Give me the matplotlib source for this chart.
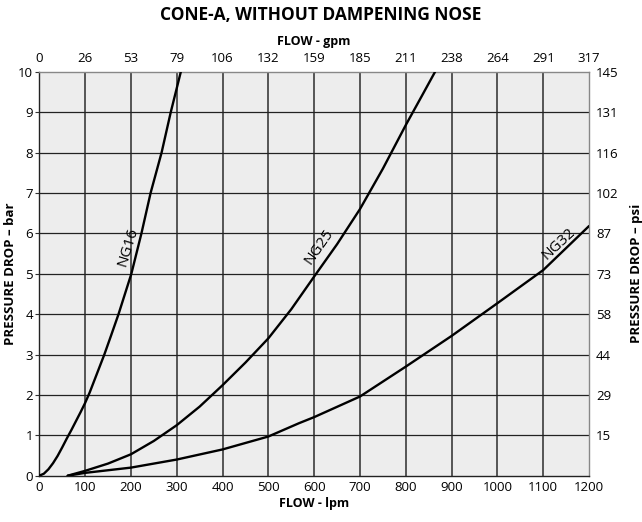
import matplotlib
matplotlib.use("Agg")
import matplotlib.pyplot as plt

plt.rcParams['font.family'] = ['Open Sans', 'DejaVu Sans']

# Data (flow in lpm, pressure drop in bar)
ng16_flow = [0, 10, 20, 30, 40, 50, 60, 70, 80, 90, 100, 110, 126, 142, 157, 173, 187, 201, 212, 223, 233, 243, 255, 267, 277, 287, 298, 309]
ng16_bar = [0, 0.05, 0.16, 0.31, 0.49, 0.7, 0.92, 1.13, 1.35, 1.57, 1.8, 2.06, 2.53, 3.0, 3.48, 4.0, 4.5, 5.0, 5.5, 6.0, 6.5, 7.0, 7.5, 8.0, 8.5, 9.0, 9.5, 10.0]

ng25_flow = [62, 100, 150, 200, 250, 300, 350, 400, 450, 500, 550, 600, 650, 700, 750, 800, 835, 864]
ng25_bar = [0, 0.12, 0.3, 0.53, 0.86, 1.25, 1.71, 2.24, 2.8, 3.4, 4.12, 4.93, 5.73, 6.6, 7.6, 8.68, 9.4, 10.0]

ng32_flow = [62, 100, 200, 300, 400, 500, 567, 600, 700, 800, 900, 1000, 1100, 1200]
ng32_bar = [0, 0.07, 0.2, 0.4, 0.65, 0.97, 1.3, 1.45, 1.96, 2.7, 3.46, 4.27, 5.09, 6.18]

lpm_ticks = [0, 100, 200, 300, 400, 500, 600, 700, 800, 900, 1000, 1100, 1200]
gpm_labels = ['0', '26', '53', '79', '106', '132', '159', '185', '211', '238', '264', '291', '317']
bar_ticks = [0, 1, 2, 3, 4, 5, 6, 7, 8, 9, 10]
psi_ticks = [1, 2, 3, 4, 5, 6, 7, 8, 9, 10]
psi_labels = ['15', '29', '44', '58', '73', '87', '102', '116', '131', '145']

fig = plt.figure(figsize=(6.42, 5.22), dpi=100)
ax = fig.add_axes([0.0612, 0.0887, 0.8563, 0.7739])
ax.set_facecolor('#ededed')
ax.set_xlim(0, 1200)
ax.set_ylim(0, 10)

for x in lpm_ticks[1:-1]:
    ax.axvline(x, color='#555555', lw=1.4, zorder=1)
for y in bar_ticks[1:-1]:
    ax.axhline(y, color='#222222', lw=0.9, zorder=1)

for fx, fy in [(ng16_flow, ng16_bar), (ng25_flow, ng25_bar), (ng32_flow, ng32_bar)]:
    ax.plot(fx, fy, color='black', lw=1.7, zorder=3, solid_capstyle='round',
            solid_joinstyle='round')

ax.text(194, 5.67, 'NG16', rotation=73, ha='center', va='center', fontsize=11, zorder=4)
ax.text(610, 5.68, 'NG25', rotation=55, ha='center', va='center', fontsize=11, zorder=4)
ax.text(1133, 5.73, 'NG32', rotation=43, ha='center', va='center', fontsize=11, zorder=4)

ax.set_xticks(lpm_ticks)
ax.set_xticklabels([str(v) for v in lpm_ticks])
ax.set_yticks(bar_ticks)
ax.set_yticklabels([str(v) for v in bar_ticks])
ax.tick_params(axis='both', labelsize=9.5, length=3, width=0.8, pad=1.5, color='#333333')
ax.tick_params(axis='x', length=0, pad=4)
ax.set_xlabel('FLOW - lpm', fontsize=9, fontweight='bold', labelpad=2)
ax.set_ylabel('PRESSURE DROP – bar', fontsize=9.5, fontweight='bold', labelpad=1)
for s in ['left', 'bottom']:
    ax.spines[s].set_color('#222222')
    ax.spines[s].set_linewidth(1.0)
for s in ['top', 'right']:
    ax.spines[s].set_color('#888888')
    ax.spines[s].set_linewidth(1.0)

axt = ax.twiny()
axt.set_xlim(ax.get_xlim())
axt.set_xticks(lpm_ticks)
axt.set_xticklabels(gpm_labels)
axt.tick_params(axis='x', labelsize=9.5, length=0, pad=5)
axt.set_xlabel('FLOW - gpm', fontsize=9, fontweight='bold', labelpad=5)

axr = ax.twinx()
axr.set_ylim(ax.get_ylim())
axr.set_yticks(psi_ticks)
axr.set_yticklabels(psi_labels)
axr.tick_params(axis='y', labelsize=9.5, length=0, pad=5)
axr.set_ylabel('PRESSURE DROP – psi', fontsize=9.5, fontweight='bold', labelpad=8)
for a in (axt, axr):
    for s in a.spines.values():
        s.set_visible(False)

fig.text(0.5, 0.972, 'CONE-A, WITHOUT DAMPENING NOSE', ha='center', va='center',
         fontsize=12.5, fontweight='bold')

fig.savefig('out.png', dpi=100)
